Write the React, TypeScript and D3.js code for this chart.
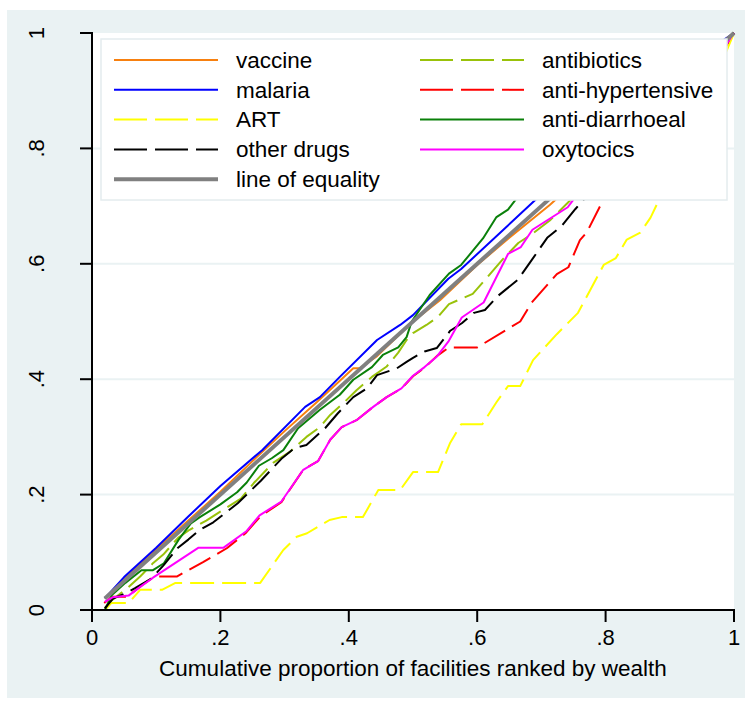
import React from 'react';
import * as d3 from 'd3';

// cumulative share of each item vs cumulative proportion of facilities
const vaccine: [number, number][] = [[0.02,0.02],[0.05,0.055],[0.1,0.105],[0.15,0.155],[0.2,0.205],[0.25,0.258],[0.3,0.31],[0.35,0.36],[0.407,0.419],[0.417,0.419],[0.444,0.44],[0.5,0.5],[0.542,0.537],[0.6,0.598],[0.65,0.645],[0.713,0.702],[0.8,0.79],[0.9,0.895],[0.98,0.98],[1,1]];
const malaria: [number, number][] = [[0.02,0.02],[0.05,0.057],[0.1,0.108],[0.15,0.162],[0.2,0.215],[0.265,0.277],[0.332,0.352],[0.355,0.369],[0.386,0.404],[0.444,0.468],[0.48,0.494],[0.5,0.511],[0.555,0.574],[0.575,0.591],[0.69,0.71],[0.8,0.81],[0.9,0.91],[0.98,0.985],[1,1]];
const art: [number, number][] = [[0.02,0.0],[0.03,0.012],[0.057,0.012],[0.075,0.035],[0.109,0.035],[0.13,0.047],[0.262,0.047],[0.298,0.104],[0.319,0.127],[0.335,0.133],[0.37,0.156],[0.389,0.161],[0.422,0.161],[0.446,0.208],[0.48,0.208],[0.5,0.239],[0.539,0.239],[0.558,0.29],[0.575,0.322],[0.608,0.322],[0.63,0.36],[0.648,0.388],[0.667,0.388],[0.687,0.433],[0.724,0.478],[0.757,0.515],[0.797,0.598],[0.816,0.61],[0.833,0.642],[0.854,0.654],[0.87,0.68],[0.885,0.715],[0.92,0.8],[0.95,0.87],[0.985,0.96],[1,1]];
const otherDrugs: [number, number][] = [[0.02,0.003],[0.033,0.02],[0.054,0.03],[0.067,0.038],[0.093,0.055],[0.111,0.077],[0.134,0.108],[0.15,0.122],[0.168,0.139],[0.189,0.152],[0.227,0.185],[0.263,0.224],[0.295,0.262],[0.316,0.281],[0.334,0.286],[0.363,0.315],[0.383,0.341],[0.407,0.369],[0.428,0.384],[0.444,0.407],[0.475,0.419],[0.49,0.43],[0.5,0.437],[0.518,0.448],[0.537,0.454],[0.558,0.484],[0.576,0.497],[0.595,0.515],[0.612,0.52],[0.633,0.545],[0.663,0.572],[0.684,0.605],[0.709,0.645],[0.732,0.666],[0.753,0.695],[0.765,0.71],[0.8,0.76],[0.85,0.82],[0.9,0.88],[0.95,0.93],[0.985,0.975],[1,1]];
const antibiotics: [number, number][] = [[0.02,0.003],[0.031,0.017],[0.057,0.04],[0.075,0.058],[0.094,0.08],[0.111,0.096],[0.134,0.125],[0.152,0.139],[0.178,0.155],[0.232,0.193],[0.252,0.22],[0.282,0.255],[0.308,0.274],[0.334,0.3],[0.355,0.317],[0.371,0.338],[0.391,0.358],[0.412,0.381],[0.436,0.404],[0.459,0.422],[0.477,0.446],[0.49,0.468],[0.5,0.48],[0.521,0.494],[0.539,0.508],[0.556,0.53],[0.593,0.548],[0.609,0.568],[0.64,0.608],[0.664,0.636],[0.686,0.652],[0.713,0.675],[0.745,0.71],[0.8,0.77],[0.9,0.88],[0.985,0.975],[1,1]];
const antiHypertensive: [number, number][] = [[0.019,0.012],[0.031,0.023],[0.055,0.023],[0.078,0.043],[0.097,0.058],[0.132,0.058],[0.173,0.083],[0.21,0.107],[0.239,0.133],[0.262,0.162],[0.295,0.187],[0.329,0.243],[0.352,0.258],[0.371,0.295],[0.389,0.317],[0.412,0.329],[0.438,0.352],[0.459,0.369],[0.482,0.384],[0.5,0.405],[0.518,0.42],[0.537,0.44],[0.556,0.455],[0.6,0.455],[0.667,0.5],[0.685,0.533],[0.724,0.582],[0.742,0.594],[0.76,0.641],[0.771,0.655],[0.796,0.71],[0.85,0.8],[0.9,0.87],[0.95,0.93],[0.985,0.97],[1,1]];
const antiDiarrhoeal: [number, number][] = [[0.02,0.0],[0.031,0.026],[0.052,0.047],[0.077,0.069],[0.095,0.069],[0.112,0.081],[0.135,0.122],[0.154,0.15],[0.168,0.161],[0.2,0.183],[0.226,0.204],[0.241,0.221],[0.26,0.25],[0.28,0.263],[0.298,0.277],[0.321,0.315],[0.355,0.347],[0.386,0.373],[0.407,0.399],[0.436,0.421],[0.453,0.442],[0.477,0.455],[0.49,0.473],[0.498,0.5],[0.526,0.546],[0.556,0.583],[0.575,0.598],[0.609,0.644],[0.63,0.681],[0.648,0.694],[0.659,0.71],[0.7,0.77],[0.8,0.88],[0.9,0.95],[0.985,0.985],[1,1]];
const oxytocics: [number, number][] = [[0.02,0.014],[0.032,0.022],[0.057,0.025],[0.075,0.04],[0.095,0.056],[0.166,0.108],[0.205,0.108],[0.241,0.137],[0.261,0.164],[0.295,0.188],[0.329,0.243],[0.352,0.258],[0.371,0.295],[0.389,0.317],[0.412,0.329],[0.438,0.352],[0.459,0.369],[0.482,0.384],[0.5,0.406],[0.518,0.421],[0.537,0.439],[0.555,0.465],[0.576,0.507],[0.61,0.533],[0.648,0.617],[0.668,0.629],[0.686,0.659],[0.741,0.698],[0.749,0.71],[0.8,0.8],[0.9,0.9],[0.985,0.975],[1,1]];
const equality: [number, number][] = [[0.02,0.02],[1,1]];

const ticks = [0, 0.2, 0.4, 0.6, 0.8, 1];
const tickLabels = ['0', '.2', '.4', '.6', '.8', '1'];

// plotting order (legend fills row by row in two columns)
const series = [
  { name: 'vaccine', data: vaccine, color: '#f7800f', dash: false, w: 2 },
  { name: 'antibiotics', data: antibiotics, color: '#99c20a', dash: true, w: 2 },
  { name: 'malaria', data: malaria, color: '#0000ff', dash: false, w: 2 },
  { name: 'anti-hypertensive', data: antiHypertensive, color: '#ff0000', dash: true, w: 2 },
  { name: 'ART', data: art, color: '#ffff00', dash: true, w: 2 },
  { name: 'anti-diarrhoeal', data: antiDiarrhoeal, color: '#0a800a', dash: false, w: 2 },
  { name: 'other drugs', data: otherDrugs, color: '#000000', dash: true, w: 2 },
  { name: 'oxytocics', data: oxytocics, color: '#ff00ff', dash: false, w: 2 },
  { name: 'line of equality', data: equality, color: '#808080', dash: false, w: 4 },
];

const W = 752, H = 701;
const bg = '#eaf2f3';
const font = '"Liberation Sans", Arial, sans-serif';

export default function App() {
  const x = d3.scaleLinear().domain([0, 1]).range([92, 734]);
  const y = d3.scaleLinear().domain([0, 1]).range([610, 33]);
  const line = d3.line<[number, number]>().x(d => x(d[0])).y(d => y(d[1]));

  const leg = { x: 101, y: 39, w: 626, h: 161 };
  const rowY = (i: number) => 60 + i * 29.8;

  return (
    <svg width={W} height={H} style={{ position: 'absolute', left: 0, top: 0 }} fontFamily={font}>
      <rect x={0} y={0} width={W} height={H} fill="#fff" />
      <rect x={7} y={10} width={738} height={688} fill={bg} />
      <rect x={x(0)} y={y(1)} width={x(1) - x(0)} height={y(0) - y(1)} fill="#fff" />
      {ticks.slice(1, -1).map(t => (
        <line key={'g' + t} x1={x(0)} x2={x(1)} y1={y(t)} y2={y(t)} stroke={bg} strokeWidth={2} />
      ))}

      {series.map(s => (
        <path key={s.name} d={line(s.data) || ''} fill="none" stroke={s.color} strokeWidth={s.w}
          strokeDasharray={s.dash ? '24 8' : undefined} strokeLinejoin="round" />
      ))}

      {/* legend */}
      <rect x={leg.x} y={leg.y} width={leg.w} height={leg.h} fill="#fff" stroke="#e4ecee" strokeWidth={1.5} />
      {series.map((s, i) => {
        const col = i % 2;
        const row = Math.floor(i / 2);
        const lx = col === 0 ? 114 : 420;
        const yy = rowY(row);
        return (
          <g key={'l' + s.name}>
            <line x1={lx} x2={lx + 104} y1={yy} y2={yy} stroke={s.color} strokeWidth={s.w === 4 ? 4 : 2}
              strokeDasharray={s.dash ? '33 8' : undefined} />
            <text x={lx + 122} y={yy} dy="0.35em" fontSize={22.5} fill="#000">{s.name}</text>
          </g>
        );
      })}

      {/* axes */}
      <line x1={x(0)} x2={x(0)} y1={y(0)} y2={y(1) - 1} stroke="#000" strokeWidth={2} />
      <line x1={x(0) - 1} x2={x(1) + 1} y1={y(0)} y2={y(0)} stroke="#000" strokeWidth={2} />
      {ticks.map((t, i) => (
        <g key={'yt' + t}>
          <line x1={x(0) - 12} x2={x(0)} y1={y(t)} y2={y(t)} stroke="#000" strokeWidth={2} />
          <text transform={`translate(44,${y(t)}) rotate(-90)`} textAnchor="middle" fontSize={22} fill="#000">{tickLabels[i]}</text>
        </g>
      ))}
      {ticks.map((t, i) => (
        <g key={'xt' + t}>
          <line x1={x(t)} x2={x(t)} y1={y(0)} y2={y(0) + 12} stroke="#000" strokeWidth={2} />
          <text x={x(t)} y={645} textAnchor="middle" fontSize={22} fill="#000">{tickLabels[i]}</text>
        </g>
      ))}
      <text x={413} y={676} textAnchor="middle" fontSize={22.5} fill="#000">
        Cumulative proportion of facilities ranked by wealth
      </text>
    </svg>
  );
}
